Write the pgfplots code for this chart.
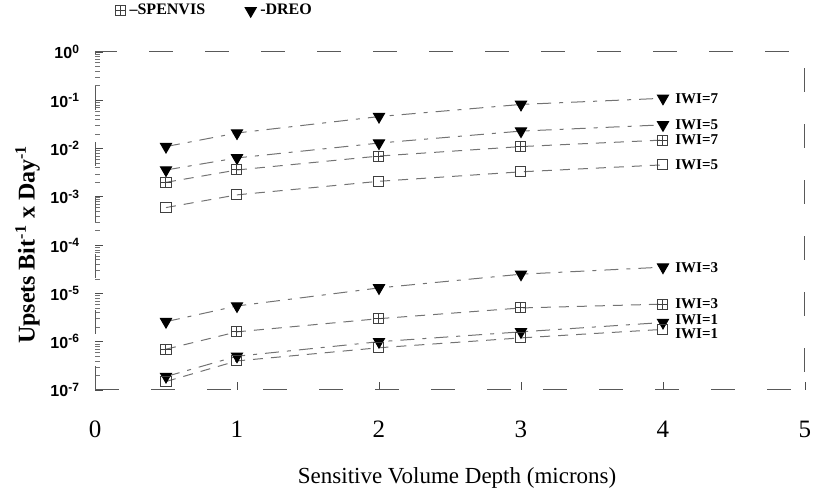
\documentclass[border=0pt]{standalone}
\usepackage{fontspec}
\setmainfont{Liberation Serif}
\setsansfont{Liberation Sans}
\usepackage{pgfplots}
\pgfplotsset{compat=1.18}
\pgfdeclareplotmark{boxplus}{%
  \pgfpathrectangle{\pgfpoint{-\pgfplotmarksize}{-\pgfplotmarksize}}{\pgfpoint{2\pgfplotmarksize}{2\pgfplotmarksize}}%
  \pgfpathmoveto{\pgfpoint{-\pgfplotmarksize}{0pt}}\pgfpathlineto{\pgfpoint{\pgfplotmarksize}{0pt}}%
  \pgfpathmoveto{\pgfpoint{0pt}{-\pgfplotmarksize}}\pgfpathlineto{\pgfpoint{0pt}{\pgfplotmarksize}}%
  \pgfusepathqstroke}
\newcommand{\tlab}[1]{\sffamily\bfseries 10\textsuperscript{#1}}
\pgfplotsset{
  dreo/.style={draw=black!55, line width=0.5pt, dash pattern=on 7pt off 4pt on 2pt off 4pt,
    mark=triangle*, mark size=3.2pt, mark options={rotate=180, solid, fill=black, draw=black}},
  spen/.style={draw=black!55, line width=0.5pt, dash pattern=on 5pt off 4pt,
    mark size=2.5pt, mark options={solid, draw=black!75, fill=none, line width=0.5pt}},
}
\begin{document}
\begin{tikzpicture}
\begin{axis}[
  at={(47.5pt,55.5pt)}, anchor=south west,
  scale only axis, width=355pt, height=169pt,
  xmin=0, xmax=5, ymode=log, ymin=1e-7, ymax=1,
  xtick={0,1,2,3,4,5},
  xticklabels={0,1,2,3,4,5},
  ytick={1e-7,1e-6,1e-5,1e-4,1e-3,1e-2,1e-1,1},
  yticklabels={\tlab{-7},\tlab{-6},\tlab{-5},\tlab{-4},\tlab{-3},\tlab{-2},\tlab{-1},\tlab{0}},
  xtick pos=bottom, ytick pos=left,
  tick style={black!70, line width=0.4pt},
  minor tick style={black!55, line width=0.3pt},
  major tick length=4pt, minor tick length=2.5pt,
  x tick label style={font=\fontsize{12.5}{12.5}\selectfont, yshift=-12pt},
  y tick label style={font=\fontsize{8}{8}\selectfont, xshift=-4pt},
  xlabel={Sensitive Volume Depth (microns)},
  xlabel style={font=\fontsize{11.5}{11.5}\selectfont, at={(axis description cs:0.51,0)}, anchor=center, yshift=-44pt},
  ylabel={Upsets Bit\textsuperscript{-1} x Day\textsuperscript{-1}},
  ylabel style={font=\bfseries\fontsize{12}{12}\selectfont, at={(axis description cs:-0.095,0.43)}, anchor=center},
  axis line style={black!65, line width=0.5pt},
  x axis line style={dash pattern=on 12pt off 16pt, black!55},
  clip=false,
  legend style={at={(axis description cs:0.02,1)}, anchor=south west, yshift=13pt,
    draw=none, fill=none, font=\bfseries\fontsize{8}{8}\selectfont,
    /tikz/every even column/.append style={column sep=18pt}},
  legend columns=2, legend cell align=left,
  legend image code/.code={\draw[#1, solid] plot coordinates {(0.15cm,0cm)};},
]
\addlegendimage{spen, mark=boxplus}
\addlegendentry{--SPENVIS}
\addlegendimage{dreo}
\addlegendentry{-DREO}

% DREO IWI=7
\addplot[dreo, forget plot] coordinates {(0.5,1.1e-2)(1,2.1e-2)(2,4.6e-2)(3,8.2e-2)(4,1.1e-1)};
% DREO IWI=5
\addplot[dreo, forget plot] coordinates {(0.5,3.6e-3)(1,6.4e-3)(2,1.3e-2)(3,2.3e-2)(4,3.1e-2)};
% SPENVIS IWI=7
\addplot[spen, mark=boxplus, forget plot] coordinates {(0.5,2.0e-3)(1,3.6e-3)(2,7.0e-3)(3,1.1e-2)(4,1.5e-2)};
% SPENVIS IWI=5
\addplot[spen, mark=square, forget plot] coordinates {(0.5,6.0e-4)(1,1.1e-3)(2,2.1e-3)(3,3.3e-3)(4,4.6e-3)};
% DREO IWI=3
\addplot[dreo, forget plot] coordinates {(0.5,2.6e-6)(1,5.5e-6)(2,1.3e-5)(3,2.5e-5)(4,3.5e-5)};
% SPENVIS IWI=3
\addplot[spen, mark=boxplus, forget plot] coordinates {(0.5,7.0e-7)(1,1.6e-6)(2,3.0e-6)(3,5.0e-6)(4,6.0e-6)};
% DREO IWI=1
\addplot[dreo, forget plot] coordinates {(0.5,1.9e-7)(1,5.0e-7)(2,1.0e-6)(3,1.6e-6)(4,2.5e-6)};
% SPENVIS IWI=1
\addplot[spen, mark=square, forget plot] coordinates {(0.5,1.5e-7)(1,4.0e-7)(2,7.5e-7)(3,1.2e-6)(4,1.8e-6)};

\begin{scope}[every node/.style={anchor=west, font=\bfseries\fontsize{7.5}{7.5}\selectfont, inner sep=1pt}]
\node at (axis cs:4.07,1.1e-1) {IWI=7};
\node at (axis cs:4.07,3.1e-2) {IWI=5};
\node at (axis cs:4.07,1.5e-2) {IWI=7};
\node at (axis cs:4.07,4.6e-3) {IWI=5};
\node at (axis cs:4.07,3.5e-5) {IWI=3};
\node at (axis cs:4.07,6.0e-6) {IWI=3};
\node[yshift=1.5pt] at (axis cs:4.07,2.5e-6) {IWI=1};
\node[yshift=-2pt] at (axis cs:4.07,1.8e-6) {IWI=1};
\end{scope}
\end{axis}
\pgfresetboundingbox
\useasboundingbox (0,0) rectangle (407.5pt,250.5pt);
\end{tikzpicture}
\end{document}
